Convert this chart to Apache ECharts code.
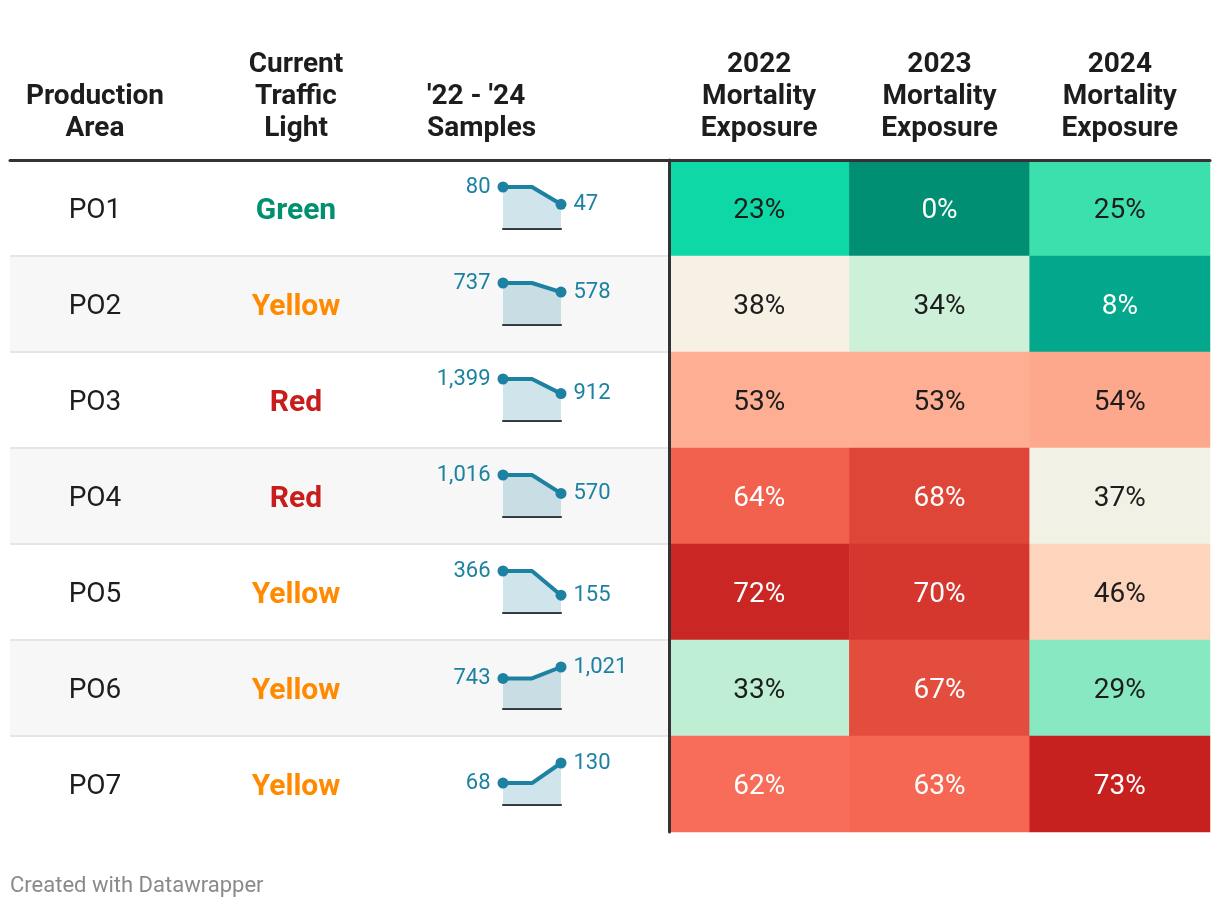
<!DOCTYPE html>
<html><head><meta charset="utf-8">
<script src="https://cdn.jsdelivr.net/npm/echarts@6/dist/echarts.min.js"></script>
<style>html,body{margin:0;padding:0;background:#fff}#c{width:1220px;height:908px}</style>
</head><body><div id="c"></div>
<script>
// ---------- data ----------
const areas = ['PO1', 'PO2', 'PO3', 'PO4', 'PO5', 'PO6', 'PO7'];
const lights = ['Green', 'Yellow', 'Red', 'Red', 'Yellow', 'Yellow', 'Yellow'];
const years = ['2022', '2023', '2024'];
const samples2022 = [80, 737, 1399, 1016, 366, 743, 68];
const samples2023 = [80, 737, 1399, 1016, 366, 743, 68];
const samples2024 = [47, 578, 912, 570, 155, 1021, 130];
const mortality2022 = [23, 38, 53, 64, 72, 33, 62];
const mortality2023 = [0, 34, 53, 68, 70, 67, 63];
const mortality2024 = [25, 8, 54, 37, 46, 29, 73];
const colAreaHeader = 'Production\nArea';
const colLightHeader = 'Current\nTraffic\nLight';
const colSamplesHeader = "'22 - '24\nSamples";
const mortalityHeaders = years.map(y => y + '\nMortality\nExposure');
const footer = 'Created with Datawrapper';

// ---------- layout / style ----------
const TOP = 160, ROW_H = 96, N = areas.length;
const TXT = '#1d1d1d', RULE = '#333333', SPARK = '#1d81a2';
const lightColors = { Green: '#00906f', Yellow: '#ff8a00', Red: '#c71e1d' };
const scaleColors = ['#008f72','#01977a','#029f83','#03a68b','#03ae90','#03b694','#04c19a','#04c99e','#04cfa0','#02d6a3',
  '#3ce0ad','#6de5bb','#98eac7','#b7eed1','#dbf2df','#f6f2e7','#f9e9da','#fbe1ce','#fdd9c2','#feceb4',
  '#fec0a5','#feb396','#fca186','#fb8e76','#fa7b65','#f86a56','#ed5b49','#e04a3a','#d5372f','#c72220','#c01a1c'];
const headLabel = { fontSize: 28, fontWeight: 'bold', color: TXT, lineHeight: 32, margin: 15 };

const mortality = [mortality2022, mortality2023, mortality2024];
const heatData = [];
mortality.forEach((arr, j) => arr.forEach((v, i) => heatData.push([j, i, v])));

const grid = [
  { left: 10, top: TOP, width: 659, height: N * ROW_H },   // stripes
  { left: 10, top: TOP, width: 170, height: N * ROW_H },   // area col
  { left: 211, top: TOP, width: 170, height: N * ROW_H },  // light col
  { left: 669, top: TOP, width: 541, height: N * ROW_H }   // heatmap
];
const xAxis = [
  { gridIndex: 0, type: 'value', min: 0, max: 1, position: 'top', z: 10,
    axisLine: { show: true, lineStyle: { color: RULE, width: 3 } }, axisTick: { show: false },
    axisLabel: { show: false }, splitLine: { show: false } },
  { gridIndex: 1, type: 'category', data: [colAreaHeader], position: 'top',
    axisLine: { show: false }, axisTick: { show: false }, axisLabel: headLabel },
  { gridIndex: 2, type: 'category', data: [colLightHeader], position: 'top',
    axisLine: { show: false }, axisTick: { show: false }, axisLabel: headLabel },
  { gridIndex: 3, type: 'category', data: mortalityHeaders, position: 'top', z: 10,
    axisLine: { show: true, lineStyle: { color: RULE, width: 3 } }, axisTick: { show: false }, axisLabel: headLabel }
];
const yAxis = [
  { gridIndex: 0, type: 'category', data: areas, inverse: true,
    axisLine: { show: false }, axisTick: { show: false }, axisLabel: { show: false },
    splitLine: { show: true, interval: 0, showMinLine: false, showMaxLine: false, lineStyle: { color: '#e6e6e6', width: 2 } },
    splitArea: { show: true, interval: 0, areaStyle: { color: ['#ffffff', '#f7f7f7'] } } },
  { gridIndex: 1, type: 'category', data: areas, inverse: true, show: false },
  { gridIndex: 2, type: 'category', data: areas, inverse: true, show: false },
  { gridIndex: 3, type: 'category', data: areas, inverse: true, z: 10,
    axisLine: { show: true, lineStyle: { color: RULE, width: 3 } }, axisTick: { show: false }, axisLabel: { show: false } }
];
const series = [
  { type: 'scatter', xAxisIndex: 1, yAxisIndex: 1, symbolSize: 0, silent: true,
    itemStyle: { opacity: 1 },
    data: areas.map((a, i) => [0, i]),
    label: { show: true, position: 'inside', offset: [0, 3], fontSize: 28, color: TXT, formatter: p => areas[p.dataIndex] } },
  { type: 'scatter', xAxisIndex: 2, yAxisIndex: 2, symbolSize: 0, silent: true,
    itemStyle: { opacity: 1 },
    data: lights.map((l, i) => [0, i]),
    label: { show: true, position: 'inside', offset: [0, 3], fontSize: 30, fontWeight: 'bold',
      formatter: p => '{' + lights[p.dataIndex] + '|' + lights[p.dataIndex] + '}',
      rich: Object.fromEntries(Object.keys(lightColors).map(k => [k, { color: lightColors[k], fontSize: 30, fontWeight: 'bold' }])) } },
  { type: 'heatmap', xAxisIndex: 3, yAxisIndex: 3, data: heatData, silent: true,
    label: { show: true, fontSize: 28, offset: [0, 3],
      formatter: p => (p.value[2] <= 15 || p.value[2] >= 58 ? '{w|' : '{d|') + p.value[2] + '%}',
      rich: { w: { color: '#ffffff', fontSize: 28 }, d: { color: TXT, fontSize: 28 } } } }
];

areas.forEach((a, i) => {
  const g = grid.length;
  grid.push({ left: 503, width: 58, top: TOP + ROW_H * i + 27, height: 42 });
  xAxis.push({ gridIndex: g, type: 'category', data: years, boundaryGap: false,
    axisLine: { show: true, lineStyle: { color: RULE, width: 2 } }, axisTick: { show: false }, axisLabel: { show: false } });
  yAxis.push({ gridIndex: g, type: 'value', min: 0, max: 'dataMax', show: false });
  const vals = [samples2022[i], samples2023[i], samples2024[i]];
  series.push({
    type: 'line', xAxisIndex: g, yAxisIndex: g, silent: true, showAllSymbol: true,
    symbol: 'circle', symbolSize: (v, p) => (p.dataIndex === 1 ? 0 : 11),
    lineStyle: { color: SPARK, width: 4 }, itemStyle: { color: SPARK },
    areaStyle: { color: 'rgba(29,129,162,0.21)', opacity: 1 },
    label: { show: false, fontSize: 22, color: SPARK, distance: 7, formatter: p => p.value.toLocaleString('en-US') },
    data: vals.map((v, k) => ({ value: v,
      label: k === 0 ? { show: true, position: 'left' } : k === 2 ? { show: true, position: 'right' } : { show: false } }))
  });
});

const chart = echarts.init(document.getElementById('c'), null, { renderer: 'canvas' });
chart.setOption({
  animation: false,
  backgroundColor: '#ffffff',
  textStyle: { fontFamily: 'Roboto' },
  title: [
    { text: colSamplesHeader, left: 427, top: 81, padding: 0,
      textStyle: { fontSize: 28, fontWeight: 'bold', color: TXT, lineHeight: 32, fontFamily: 'Roboto' } },
    { text: footer, left: 10, top: 875, padding: 0,
      textStyle: { fontSize: 22, fontWeight: 'normal', color: '#8a8a8a', fontFamily: 'Roboto' } }
  ],
  visualMap: { type: 'continuous', show: false, seriesIndex: 2, dimension: 2, min: 0, max: 75, inRange: { color: scaleColors } },
  grid, xAxis, yAxis, series
});
</script>
</body></html>
